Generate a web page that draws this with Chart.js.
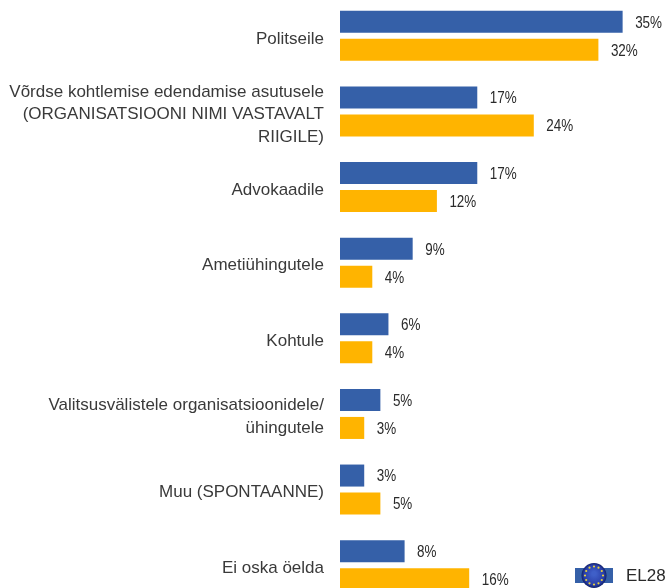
<!DOCTYPE html>
<html><head><meta charset="utf-8">
<style>html,body{margin:0;padding:0;background:#fff;overflow:hidden}#w{position:relative;width:667px;height:588px;overflow:hidden}#c{position:absolute;left:0;top:-2px}</style>
<script src="https://cdn.jsdelivr.net/npm/chart.js@4"></script></head><body>
<div id="w"><canvas id="c" width="667" height="605"></canvas></div>
<script>
const categories=[["Politseile"],["Võrdse kohtlemise edendamise asutusele","(ORGANISATSIOONI NIMI VASTAVALT","RIIGILE)"],["Advokaadile"],["Ametiühingutele"],["Kohtule"],["Valitsusvälistele organisatsioonidele/","ühingutele"],["Muu (SPONTAANNE)"],["Ei oska öelda"]];
const seriesBlue=[35,17,17,9,6,5,3,8];
const seriesOrange=[32,24,12,4,4,3,5,16];
const legendLabel="EL28";
const font='"Liberation Sans", Arial, sans-serif';
const labelPlugin={id:'lbl',afterDatasetsDraw(ch){const x=ch.ctx;x.save();x.font='16px '+font;x.fillStyle='#2a2a2a';x.textBaseline='middle';
ch.data.datasets.forEach((d,i)=>ch.getDatasetMeta(i).data.forEach((b,j)=>{x.save();x.translate(b.x+12.5,b.y+1.5);x.scale(.84,1);x.fillText(d.data[j]+'%',0,0);x.restore();}));x.restore();}};
const legendPlugin={id:'leg',afterDraw(ch){const x=ch.ctx;x.save();
const cx=594,cy=577.5;
x.fillStyle='#3560a8';x.fillRect(575,570,38,15);
const g=x.createRadialGradient(cx,cy-2,2,cx,cy,12.5);g.addColorStop(0,'#3f5fc8');g.addColorStop(.75,'#2a3fa8');g.addColorStop(1,'#10206a');
x.fillStyle=g;x.beginPath();x.arc(cx,cy,12.5,0,7);x.fill();
x.fillStyle='#e6d040';for(let i=0;i<12;i++){const a=i*Math.PI/6;x.beginPath();x.arc(cx+9*Math.cos(a),cy+9*Math.sin(a),1.1,0,7);x.fill();}
x.fillStyle='#2a2a2a';x.font='17px '+font;x.textBaseline='middle';x.fillText(legendLabel,626,578);x.restore();}};
new Chart(document.getElementById('c'),{type:'bar',plugins:[labelPlugin,legendPlugin],
data:{labels:categories,datasets:[{data:seriesBlue,backgroundColor:'#3560a8'},{data:seriesOrange,backgroundColor:'#ffb400'}]},
options:{indexAxis:'y',responsive:false,animation:false,layout:{padding:{left:0,top:0,bottom:0,right:4}},
datasets:{bar:{categoryPercentage:0.741,barPercentage:0.786}},
plugins:{legend:{display:false},tooltip:{enabled:false}},
scales:{x:{min:0,max:40,display:false},
y:{position:'left',grid:{display:false},border:{display:false},ticks:{color:'#3a3a3a',font:{size:17,family:font,lineHeight:1.33},padding:8,labelOffset:3,autoSkip:false},afterFit(s){s.width=340;s.paddingTop=0;s.paddingBottom=0;}}}}});
</script></body></html>
